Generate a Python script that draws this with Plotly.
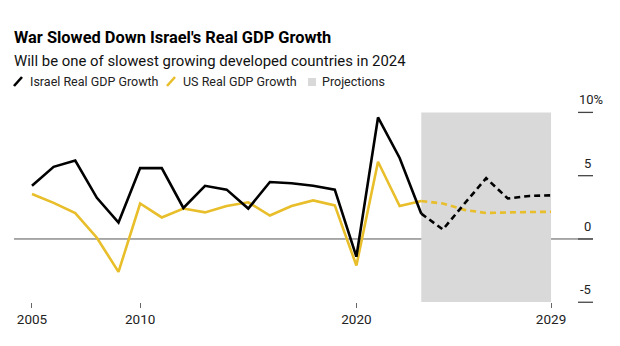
import plotly.graph_objects as go

years = list(range(2005, 2030))
israel = [4.2, 5.7, 6.2, 3.25, 1.3, 5.6, 5.6, 2.45, 4.2, 3.9, 2.4, 4.5, 4.4, 4.2, 3.9,
          -1.4, 9.6, 6.4, 2.0, 0.75, 2.8, 4.8, 3.2, 3.4, 3.45]
us = [3.55, 2.85, 2.05, 0.1, -2.6, 2.8, 1.7, 2.4, 2.1, 2.6, 2.9, 1.85, 2.6, 3.05, 2.65,
      -2.1, 6.1, 2.6, 3.0, 2.8, 2.3, 2.05, 2.1, 2.15, 2.15]
proj_start, proj_end = 2023, 2029
x_ticks = [2005, 2010, 2020, 2029]
y_ticks = [-5, 0, 5, 10]
y_tick_labels = ["-5", "0", "5", "10%"]

title = "War Slowed Down Israel's Real GDP Growth"
subtitle = "Will be one of slowest growing developed countries in 2024"
legend_names = ["Israel Real GDP Growth", "US Real GDP Growth", "Projections"]

BLACK = "#000000"
YELLOW = "#E8BE2A"
SHADE = "#D9D9D9"
FONT = "Roboto, Arial, sans-serif"

W, H = 620, 346
ML, MR, MT, MB = 14, 27, 100, 44
PW, PH = W - ML - MR, H - MT - MB
Y_RANGE = [-4.98, 10.98]


def px_x(px):
    return (px - ML) / PW


def px_y(py):
    return (H - MB - py) / PH


def val_y(v):
    return (v - Y_RANGE[0]) / (Y_RANGE[1] - Y_RANGE[0])


split = years.index(proj_start)

fig = go.Figure()
fig.add_shape(type="rect", xref="x", yref="y", x0=proj_start, x1=proj_end,
              y0=y_ticks[0], y1=y_ticks[-1], fillcolor=SHADE, line_width=0, layer="below")
fig.add_shape(type="line", xref="paper", yref="y", x0=0, x1=1, y0=0, y1=0,
              line=dict(color="#555555", width=1), layer="below")

for vals, color in [(us, YELLOW), (israel, BLACK)]:
    fig.add_trace(go.Scatter(x=years[:split + 1], y=vals[:split + 1], mode="lines",
                             line=dict(color=color, width=2.6), showlegend=False,
                             hoverinfo="skip"))
    fig.add_trace(go.Scatter(x=years[split:], y=vals[split:], mode="lines",
                             line=dict(color=color, width=2.6, dash="6px,4px"),
                             showlegend=False, hoverinfo="skip"))

# right-side y ticks with labels above
for v, lab in zip(y_ticks, y_tick_labels):
    fig.add_shape(type="line", xref="paper", yref="paper", x0=px_x(578), x1=1,
                  y0=val_y(v), y1=val_y(v), line=dict(color="#444444", width=1.3))
    if lab.endswith("%"):
        fig.add_annotation(x=px_x(577), y=val_y(v), xref="paper", yref="paper", text=lab,
                           showarrow=False, xanchor="left", yanchor="bottom", yshift=3,
                           font=dict(family=FONT, size=13, color="#222222"))
    else:
        fig.add_annotation(x=1, y=val_y(v), xref="paper", yref="paper", text=lab,
                           showarrow=False, xanchor="right", yanchor="bottom", yshift=3,
                           font=dict(family=FONT, size=13, color="#222222"))

# title / subtitle
fig.add_annotation(x=px_x(12), y=px_y(38), xref="paper", yref="paper", text="<b>" + title + "</b>",
                   showarrow=False, xanchor="left", yanchor="middle",
                   font=dict(family=FONT, size=16.4, color="#000000"))
fig.add_annotation(x=px_x(12), y=px_y(61), xref="paper", yref="paper", text=subtitle,
                   showarrow=False, xanchor="left", yanchor="middle",
                   font=dict(family=FONT, size=14.9, color="#111111"))

# manual legend
ly = 82
for (x0, x1), color in [((14, 22), BLACK), ((167, 175), YELLOW)]:
    fig.add_shape(type="line", xref="paper", yref="paper", x0=px_x(x0), x1=px_x(x1),
                  y0=px_y(ly + 4), y1=px_y(ly - 5), line=dict(color=color, width=2.6))
fig.add_shape(type="rect", xref="paper", yref="paper", x0=px_x(308), x1=px_x(316),
              y0=px_y(ly + 4), y1=px_y(ly - 4), fillcolor=SHADE, line_width=0)
for xs, name in zip([28, 181, 320], legend_names):
    fig.add_annotation(x=px_x(xs), y=px_y(ly), xref="paper", yref="paper", text=name,
                       showarrow=False, xanchor="left", yanchor="middle",
                       font=dict(family=FONT, size=12.5, color="#222222"))

fig.update_layout(
    width=W, height=H, margin=dict(l=ML, r=MR, t=MT, b=MB),
    paper_bgcolor="white", plot_bgcolor="white",
    xaxis=dict(range=[2004.168, 2030.94], tickvals=x_ticks, ticks="outside", ticklen=5,
               tickcolor="#666666", tickwidth=1, showgrid=False, zeroline=False,
               showline=False, tickfont=dict(family=FONT, size=13.5, color="#222222")),
    yaxis=dict(range=Y_RANGE, showticklabels=False, showgrid=False, zeroline=False,
               showline=False, ticks=""),
)
fig.write_html("out.html")
